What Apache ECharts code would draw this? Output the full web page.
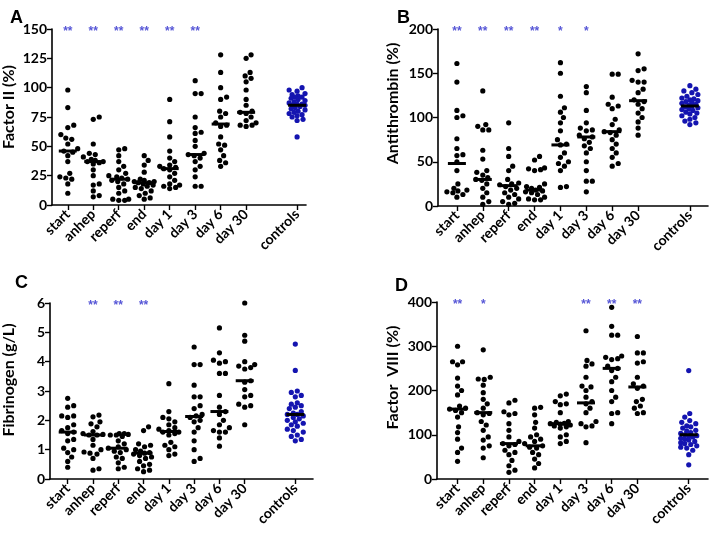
<!DOCTYPE html>
<html><head><meta charset="utf-8">
<script src="https://cdn.jsdelivr.net/npm/echarts@6/dist/echarts.min.js"></script>
<style>html,body{margin:0;padding:0;background:#fff}#c{width:709px;height:536px}</style>
</head><body><div id="c"></div>
<script>
const categories = ['start','anhep','reperf','end','day 1','day 3','day 6','day 30','controls'];
const catPos = [0,1,2,3,4,5,6,7,9];

// Panel A: Factor II (%)
const factorII = [
  [98,83,68,66,60,57,56,52,48,46,45,42,37,27,24,23,22,18,10],
  [75,73,52,44,43,41,39,38,37,37,36,35,30,25,18,17,12,8,7],
  [48,47,42,37,33,30,27,25,24,23,22,21,20,18,15,12,10,5,5,4,4],
  [42,38,34,28,22,21,20,20,19,19,18,17,16,15,14,12,10,8,6,5],
  [90,71,58,46,40,37,34,33,32,31,30,27,24,21,18,17,16,15,14],
  [106,95,95,75,66,62,61,55,50,44,43,42,40,37,33,30,24,16,16],
  [128,113,100,92,90,80,78,75,70,68,67,58,52,51,47,42,38,36,33],
  [128,125,113,110,108,105,98,90,85,80,79,78,75,72,70,68,68,67],
  [100,98,97,95,94,93,92,92,91,90,89,88,87,86,86,85,85,84,83,82,81,80,79,78,77,76,75,73,72,58]
];
const factorIIMedian = [46,37,22,19,31,43,69,79,85];
const factorIIStars = ['**','**','**','**','**','**','','',''];

// Panel B: Antithrombin (%)
const antithrombin = [
  [161,140,108,102,100,76,65,58,57,50,40,25,20,18,17,16,15,13,10],
  [130,92,90,86,86,63,53,40,38,35,32,30,29,25,20,15,10,5,2],
  [94,65,56,45,40,30,26,25,24,22,20,18,15,13,10,8,5,3,2],
  [56,52,43,42,41,40,25,22,21,20,18,17,16,15,13,10,8,7,7],
  [162,150,124,111,106,100,94,85,75,70,69,60,55,50,48,45,40,22,21],
  [135,128,108,94,88,86,85,80,78,76,72,68,65,60,50,40,28,28,16],
  [149,149,123,115,113,110,98,92,86,84,83,80,75,70,65,60,55,48,45],
  [172,155,153,142,140,140,132,128,120,118,115,110,105,100,95,88,80],
  [136,132,130,128,126,124,122,121,120,119,118,117,116,115,114,113,112,111,110,109,108,106,105,104,102,100,98,96,94,92]
];
const antithrombinMedian = [48,30,23,18,69,78,84,119,113];
const antithrombinStars = ['**','**','**','**','*','*','','',''];

// Panel C: Fibrinogen (g/L)
const fibrinogen = [
  [2.75,2.5,2.45,2.15,2.15,2.1,1.85,1.75,1.65,1.6,1.55,1.35,1.3,1.05,1.0,0.9,0.75,0.6,0.4],
  [2.18,2.12,1.95,1.88,1.78,1.62,1.55,1.52,1.5,1.5,1.35,1.15,1.0,0.92,0.88,0.85,0.7,0.35,0.3],
  [1.55,1.55,1.52,1.5,1.5,1.45,1.3,1.2,1.1,1.05,1.0,0.95,0.9,0.75,0.7,0.55,0.4,0.35],
  [1.78,1.65,1.2,1.15,1.1,1.0,0.95,0.9,0.88,0.85,0.8,0.75,0.7,0.6,0.5,0.45,0.35,0.3,0.25],
  [3.25,2.3,2.1,2.05,1.95,1.85,1.75,1.7,1.65,1.6,1.6,1.55,1.5,1.25,1.15,1.1,1.0,0.85,0.8],
  [4.5,3.9,3.9,3.2,2.8,2.8,2.5,2.4,2.2,2.15,2.1,2.0,1.95,1.75,1.6,1.3,1.0,0.7,0.6],
  [5.15,4.3,4.05,4.0,3.95,3.6,3.6,2.85,2.45,2.3,2.2,2.0,1.85,1.75,1.65,1.6,1.6,1.4,1.12],
  [6.0,4.9,4.7,4.0,3.9,3.85,3.8,3.75,3.35,3.3,3.05,2.85,2.8,2.55,2.5,2.45,1.85],
  [4.6,3.7,3.0,2.95,2.85,2.8,2.6,2.55,2.5,2.45,2.4,2.3,2.25,2.2,2.2,2.15,2.1,2.05,2.0,1.95,1.9,1.85,1.8,1.7,1.65,1.6,1.5,1.45,1.35,1.3]
];
const fibrinogenMedian = [1.6,1.5,1.05,0.88,1.62,2.13,2.3,3.35,2.2];
const fibrinogenStars = ['','**','**','**','','','','',''];

// Panel D: Factor VIII (%)
const factorVIII = [
  [300,265,265,258,228,210,200,190,165,160,158,155,150,140,118,105,90,70,60,40],
  [292,230,226,225,212,195,180,170,160,150,148,145,130,122,110,95,88,75,70,48],
  [178,172,152,148,145,125,110,95,85,80,78,75,65,60,55,42,30,20,15],
  [162,160,145,128,115,100,95,90,85,80,75,72,70,60,55,45,35,25],
  [192,188,175,170,168,150,130,128,126,125,124,122,120,118,115,100,95,85,80],
  [335,268,260,255,230,210,208,200,185,175,170,160,150,130,125,120,118,82],
  [388,345,325,325,278,275,272,270,255,250,245,230,220,200,185,175,150,148,125],
  [322,285,285,265,262,230,215,210,205,180,175,165,160,150,148],
  [245,148,140,132,128,125,120,118,115,110,108,105,103,100,98,97,95,92,90,88,85,82,80,78,75,72,70,65,55,32]
];
const factorVIIIMedian = [158,150,80,75,125,172,250,208,100];
const factorVIIIStars = ['**','*','','','','**','**','**',''];

const panels = [
  {letter:'A', name:'Factor II (%)', data:factorII, med:factorIIMedian, stars:factorIIStars, max:150, interval:25,
   grid:{left:50, top:29, width:256, height:176}, xmin:-0.62, xmax:9.35, nameGap:35, shift:20, lt:{left:5, top:4}},
  {letter:'B', name:'Antithrombin (%)', data:antithrombin, med:antithrombinMedian, stars:antithrombinStars, max:200, interval:50,
   grid:{left:438, top:29, width:270, height:177}, xmin:-0.73, xmax:9.7, nameGap:37, shift:28, lt:{left:392, top:4}},
  {letter:'C', name:'Fibrinogen (g/L)', data:fibrinogen, med:fibrinogenMedian, stars:fibrinogenStars, max:6, interval:1,
   grid:{left:49, top:303, width:264, height:176}, xmin:-0.7, xmax:9.7, nameGap:33, shift:22, lt:{left:10, top:269}},
  {letter:'D', name:'Factor  VIII (%)', data:factorVIII, med:factorVIIIMedian, stars:factorVIIIStars, max:400, interval:100,
   grid:{left:437, top:302, width:271, height:177}, xmin:-0.8, xmax:9.75, nameGap:36, shift:26, lt:{left:390, top:272}}
];

// deterministic beeswarm offsets (pixels -> axis units), bounded width
function swarm(values, pxPerUnit, pxPerSlot, diam, maxOff){
  const idx = values.map((v,i)=>i).sort((a,b)=>values[a]-values[b]);
  const cands = [0];
  for (let k=1;k<=maxOff;k++){ cands.push(k, -k); }
  const placed = []; const off = new Array(values.length);
  for (const i of idx){
    const y = values[i]*pxPerUnit;
    let best = null, bestScore = -1;
    for (const x of cands){
      let m = Infinity;
      for (const p of placed){ const d = Math.hypot(p.x-x, p.y-y); if (d<m) m=d; }
      if (m >= diam){ best = x; break; }
      if (m > bestScore + 0.5){ bestScore = m; best = x; }
    }
    placed.push({x:best, y}); off[i] = best/pxPerSlot;
  }
  return off;
}

const FONT = 'Lato, "Open Sans", sans-serif';
const grids=[], xAxes=[], yAxes=[], series=[], titles=[];
panels.forEach((p, pi) => {
  grids.push(p.grid);
  titles.push({text:p.letter, left:p.lt.left, top:p.lt.top, textStyle:{fontSize:18, fontWeight:'bold', color:'#000', fontFamily:'Arial'}});
  xAxes.push({
    type:'value', gridIndex:pi, min:p.xmin, max:p.xmax, splitLine:{show:false},
    axisLine:{onZero:false, lineStyle:{color:'#000', width:1.6}},
    axisTick:{show:true, length:5, lineStyle:{color:'#000', width:1.4}, customValues:catPos},
    axisLabel:{customValues:catPos, rotate:45, margin:7, color:'#000', fontSize:14, fontWeight:'bold', fontFamily:FONT,
      formatter: v => { const k = catPos.indexOf(Math.round(v)); return k>=0 ? categories[k] : ''; }}
  });
  yAxes.push({
    type:'value', gridIndex:pi, min:0, max:p.max, interval:p.interval, splitLine:{show:false},
    name:p.name, nameLocation:'middle', nameGap:p.nameGap, nameRotate:90,
    nameTextStyle:{color:'#000', fontSize:16, fontWeight:'bold', fontFamily:FONT, padding:[0,0,0,p.shift]},
    axisLine:{show:true, onZero:false, lineStyle:{color:'#000', width:1.6}},
    axisTick:{show:true, length:5, lineStyle:{color:'#000', width:1.4}},
    axisLabel:{color:'#000', fontSize:14, fontWeight:'bold', fontFamily:FONT, margin:5}
  });
  const pxPerUnit = p.grid.height / p.max;
  const pxPerSlot = p.grid.width / (p.xmax - p.xmin);
  p.data.forEach((vals, g) => {
    const off = swarm(vals, pxPerUnit, pxPerSlot, 5.8, g===8 ? 8 : 10);
    series.push({
      type:'scatter', xAxisIndex:pi, yAxisIndex:pi, symbol:'circle', symbolSize:5.2, silent:true,
      itemStyle:{color: g===8 ? '#1414b0' : '#000', opacity:1},
      data: vals.map((v,i)=>[catPos[g]+off[i], v]), z:2
    });
  });
  series.push({
    type:'scatter', xAxisIndex:pi, yAxisIndex:pi, symbol:'rect', symbolSize:[18,3], silent:true,
    itemStyle:{color:'#000', opacity:1}, data: p.med.map((m,g)=>[catPos[g], m]), z:3
  });
  series.push({
    type:'scatter', xAxisIndex:pi, yAxisIndex:pi, symbol:'circle', symbolSize:1, silent:true,
    itemStyle:{color:'rgba(0,0,0,0)'},
    label:{show:true, position:'inside', offset:[0,3], color:'#2a2acc', fontSize:12, fontFamily:'Arial', fontWeight:'bold',
      formatter: d => d.value[2]},
    data: p.stars.map((s,g)=>[catPos[g], p.max, s]).filter(d=>d[2]), z:4
  });
});

const chart = echarts.init(document.getElementById('c'), null, {renderer:'canvas'});
chart.setOption({
  animation:false, backgroundColor:'#fff',
  title:titles, grid:grids, xAxis:xAxes, yAxis:yAxes, series:series
});
</script></body></html>
